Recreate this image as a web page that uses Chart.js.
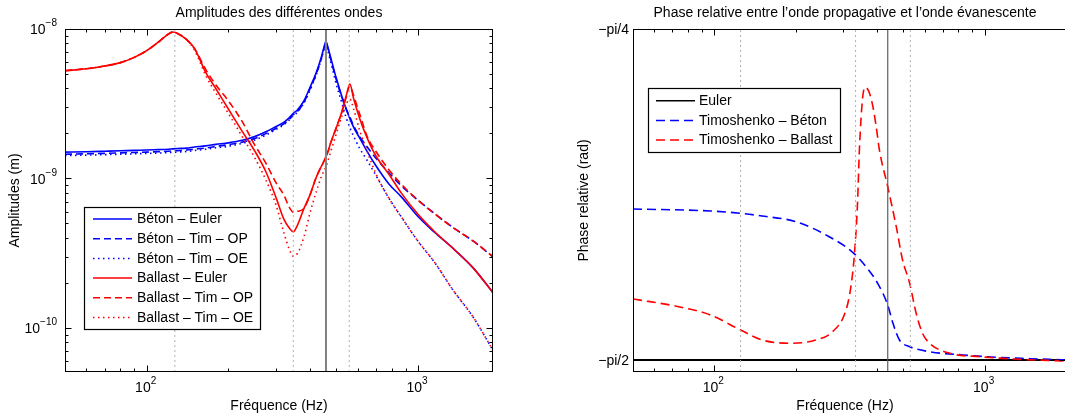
<!DOCTYPE html>
<html>
<head>
<meta charset="utf-8">
<script src="https://cdn.jsdelivr.net/npm/chart.js@4.4.1/dist/chart.umd.min.js"></script>
<style>
  html, body { margin: 0; padding: 0; background: #fff; overflow: hidden; }
  body { width: 1065px; height: 417px; position: relative; }
  canvas { position: absolute; top: 0; }
  #ampChart { left: 0; width: 530px; height: 417px; }
  #phaseChart { left: 530px; width: 545px; height: 417px; }
</style>
</head>
<body>
<canvas id="ampChart" width="530" height="417"></canvas>
<canvas id="phaseChart" width="545" height="417"></canvas>
<script>
// frequency grid (Hz) shared by the amplitude curves
const freq = [50, 60, 70, 80, 90, 100, 110, 120, 125, 130, 140, 150, 165, 180, 200, 225, 250, 275, 300, 320,
  335, 347, 360, 380, 400, 420, 440, 450, 458, 466, 475, 500, 525, 545, 561, 580, 610, 650, 700, 780,
  870, 1000, 1150, 1350, 1600, 1890];

// amplitudes (m)
const betonEuler = [1.500e-9, 1.510e-9, 1.521e-9, 1.531e-9, 1.542e-9, 1.549e-9, 1.560e-9, 1.570e-9, 1.578e-9, 1.585e-9,
  1.596e-9, 1.622e-9, 1.652e-9, 1.690e-9, 1.730e-9, 1.799e-9, 1.905e-9, 2.051e-9, 2.228e-9, 2.371e-9,
  2.541e-9, 2.723e-9, 2.884e-9, 3.311e-9, 4.074e-9, 5.012e-9, 6.457e-9, 7.499e-9, 8.260e-9, 7.499e-9,
  6.607e-9, 4.677e-9, 3.508e-9, 2.884e-9, 2.512e-9, 2.188e-9, 1.862e-9, 1.514e-9, 1.216e-9, 9.226e-10,
  7.499e-10, 5.559e-10, 4.365e-10, 3.388e-10, 2.512e-10, 1.718e-10];
const betonTimOP = [1.452e-9, 1.462e-9, 1.472e-9, 1.483e-9, 1.493e-9, 1.500e-9, 1.510e-9, 1.521e-9, 1.528e-9, 1.535e-9,
  1.549e-9, 1.570e-9, 1.600e-9, 1.637e-9, 1.683e-9, 1.750e-9, 1.849e-9, 1.995e-9, 2.168e-9, 2.317e-9,
  2.483e-9, 2.661e-9, 2.818e-9, 3.236e-9, 3.981e-9, 4.898e-9, 6.310e-9, 7.413e-9, 8.128e-9, 7.413e-9,
  6.457e-9, 4.571e-9, 3.467e-9, 2.884e-9, 2.570e-9, 2.239e-9, 1.905e-9, 1.622e-9, 1.365e-9, 1.096e-9,
  8.913e-10, 7.161e-10, 5.821e-10, 4.677e-10, 3.802e-10, 2.992e-10];
const betonTimOE = [1.422e-9, 1.432e-9, 1.442e-9, 1.452e-9, 1.462e-9, 1.469e-9, 1.479e-9, 1.489e-9, 1.496e-9, 1.503e-9,
  1.514e-9, 1.538e-9, 1.567e-9, 1.603e-9, 1.641e-9, 1.718e-9, 1.807e-9, 1.950e-9, 2.128e-9, 2.291e-9,
  2.455e-9, 2.630e-9, 2.786e-9, 3.199e-9, 3.890e-9, 4.842e-9, 6.237e-9, 7.244e-9, 7.943e-9, 7.079e-9,
  6.166e-9, 4.266e-9, 3.162e-9, 2.512e-9, 2.188e-9, 1.905e-9, 1.585e-9, 1.318e-9, 1.047e-9, 7.413e-10,
  5.495e-10, 3.802e-10, 2.754e-10, 1.778e-10, 1.175e-10, 7.08e-11];
const ballastEuler = [5.260e-9, 5.420e-9, 5.649e-9, 5.957e-9, 6.457e-9, 7.161e-9, 8.128e-9, 9.226e-9, 9.550e-9, 9.333e-9,
  8.511e-9, 7.413e-9, 5.129e-9, 3.981e-9, 2.917e-9, 2.065e-9, 1.531e-9, 1.109e-9, 7.413e-10, 5.370e-10,
  4.677e-10, 4.395e-10, 4.898e-10, 6.310e-10, 7.762e-10, 1.000e-9, 1.202e-9, 1.303e-9, 1.400e-9, 1.514e-9,
  1.698e-9, 2.188e-9, 2.818e-9, 3.631e-9, 4.276e-9, 3.388e-9, 2.512e-9, 1.862e-9, 1.413e-9, 1.072e-9,
  7.943e-10, 5.754e-10, 4.416e-10, 3.388e-10, 2.512e-10, 1.718e-10];
const ballastTimOP = [5.260e-9, 5.420e-9, 5.649e-9, 5.957e-9, 6.457e-9, 7.161e-9, 8.128e-9, 9.226e-9, 9.550e-9, 9.333e-9,
  8.511e-9, 7.413e-9, 5.370e-9, 4.217e-9, 3.311e-9, 2.399e-9, 1.679e-9, 1.265e-9, 9.333e-10, 7.762e-10,
  6.457e-10, 5.957e-10, 6.026e-10, 6.310e-10, 7.762e-10, 1.000e-9, 1.202e-9, 1.303e-9, 1.400e-9, 1.514e-9,
  1.698e-9, 2.188e-9, 2.818e-9, 3.548e-9, 4.169e-9, 3.548e-9, 2.692e-9, 1.905e-9, 1.514e-9, 1.148e-9,
  9.120e-10, 7.161e-10, 5.821e-10, 4.677e-10, 3.802e-10, 2.992e-10];
const ballastTimOE = [5.260e-9, 5.420e-9, 5.649e-9, 5.957e-9, 6.457e-9, 7.161e-9, 8.128e-9, 9.226e-9, 9.550e-9, 9.333e-9,
  8.511e-9, 7.244e-9, 4.898e-9, 3.715e-9, 2.723e-9, 1.905e-9, 1.380e-9, 9.772e-10, 6.607e-10, 4.365e-10,
  3.388e-10, 3.020e-10, 3.162e-10, 4.074e-10, 5.888e-10, 7.943e-10, 1.023e-9, 1.122e-9, 1.202e-9, 1.318e-9,
  1.479e-9, 1.995e-9, 2.630e-9, 3.162e-9, 3.388e-9, 2.884e-9, 2.089e-9, 1.514e-9, 1.072e-9, 7.413e-10,
  5.495e-10, 3.802e-10, 2.754e-10, 1.778e-10, 1.175e-10, 7.08e-11];

// relative phase (rad)
const phaseFreqBeton = [50, 96.6, 125, 150, 200, 266, 325, 364, 402, 438, 458, 484, 528, 626, 833, 1108, 1474, 2000];
const phaseBeton = [-1.2125, -1.2172, -1.2227, -1.2291, -1.2426, -1.2782, -1.3152, -1.3494, -1.3888, -1.4403,
  -1.4837, -1.5233, -1.5392, -1.5511, -1.5589, -1.5644, -1.5677, -1.5708];
const phaseFreqBallast = [50, 73.7, 96.6, 125, 150, 194, 237, 274, 307, 320, 330, 339, 344, 354, 362, 375, 386, 397,
  408, 438, 471, 497, 528, 558, 589, 626, 743, 961, 1279, 2000];
const phaseBallast = [-1.4260, -1.4443, -1.4640, -1.4996, -1.5233, -1.5312, -1.5233, -1.5036, -1.4521, -1.3969,
  -1.3176, -1.1911, -1.0725, -0.9460, -0.9237, -0.9379, -0.9697, -1.0172, -1.0725, -1.1596, -1.2545, -1.3335,
  -1.3888, -1.4600, -1.5074, -1.5312, -1.5549, -1.5630, -1.5684, -1.5732];
const eulerFreq = [50, 2000];
const eulerPhase = [-Math.PI / 2, -Math.PI / 2];

// characteristic frequencies marked on each plot
const ampMarksDotted = [127, 347, 558];
const ampMarkSolid = 458;
const phaseMarksDotted = [125, 333, 531];
const phaseMarkSolid = 438;

const phaseTicks = [-Math.PI / 2, -Math.PI / 4];
const phaseTickLabels = ['\u2212pi/2', '\u2212pi/4'];

const FONT = '"Liberation Sans", Arial, Helvetica, sans-serif';
const AMP_MIN = 5.07e-11, AMP_MAX = 1e-8;
const PH_MIN = -1.5993, PH_MAX = -Math.PI / 4;

function pts(xs, ys) {
  return xs.map((x, i) => ({ x: x, y: ys[i] }));
}

function curve(label, xs, ys, color, dash, order, width) {
  return {
    label: label, data: pts(xs, ys), borderColor: color, borderWidth: width || 1.6,
    borderDash: dash, cubicInterpolationMode: 'monotone', pointRadius: 0, order: order
  };
}

function vline(f, lo, hi, color, dash, width) {
  return {
    label: '', data: [{ x: f, y: lo }, { x: f, y: hi }], borderColor: color, borderWidth: width,
    borderDash: dash, pointRadius: 0, order: 0
  };
}

function logTicks(min, max) {
  const out = [];
  for (let k = Math.floor(Math.log10(min)); k <= Math.ceil(Math.log10(max)); k++) {
    for (let m = 1; m <= 9; m++) {
      const v = m * Math.pow(10, k);
      if (v >= min * 0.999 && v <= max * 1.001) out.push({ v: v, major: m === 1, k: k });
    }
  }
  return out;
}

function powerLabel(ctx, exp, x, y, align) {
  ctx.font = '14px ' + FONT;
  const wb = ctx.measureText('10').width;
  ctx.font = '10px ' + FONT;
  const we = ctx.measureText(exp).width;
  const x0 = align === 'right' ? x - wb - we : x - (wb + we) / 2;
  ctx.textAlign = 'left';
  ctx.textBaseline = 'middle';
  ctx.fillStyle = '#000';
  ctx.font = '14px ' + FONT;
  ctx.fillText('10', x0, y);
  ctx.font = '10px ' + FONT;
  ctx.fillText(exp, x0 + wb, y - 7);
}

// box, inward ticks, tick labels, titles and the boxed legend
const framePlugin = {
  id: 'frame',
  afterDatasetsDraw(chart, args, o) {
    const ctx = chart.ctx;
    const a = chart.chartArea;
    const x = chart.scales.x, y = chart.scales.y;
    const L = Math.round(a.left) + 0.5, R = Math.round(a.right) - 0.5;
    const T = Math.round(a.top) + 0.5, B = Math.round(a.bottom) - 0.5;
    ctx.save();
    ctx.strokeStyle = '#000';
    ctx.lineWidth = 1;
    ctx.setLineDash([]);
    ctx.strokeRect(L, T, R - L, B - T);

    ctx.beginPath();
    logTicks(x.min, x.max).forEach(t => {
      const px = Math.round(x.getPixelForValue(t.v)) + 0.5;
      const len = t.major ? 6 : 3;
      ctx.moveTo(px, B); ctx.lineTo(px, B - len);
      ctx.moveTo(px, T); ctx.lineTo(px, T + len);
    });
    if (o.yLog) {
      logTicks(y.min, y.max).forEach(t => {
        const py = Math.round(y.getPixelForValue(t.v)) + 0.5;
        const len = t.major ? 6 : 3;
        ctx.moveTo(L, py); ctx.lineTo(L + len, py);
        ctx.moveTo(R, py); ctx.lineTo(R - len, py);
      });
    } else {
      o.yTicks.forEach(v => {
        const py = Math.round(y.getPixelForValue(v)) + 0.5;
        ctx.moveTo(L, py); ctx.lineTo(L + 6, py);
        ctx.moveTo(R, py); ctx.lineTo(R - 6, py);
      });
    }
    ctx.stroke();

    // tick labels
    logTicks(x.min, x.max).filter(t => t.major).forEach(t => {
      powerLabel(ctx, String(t.k), x.getPixelForValue(t.v) - 1, 388.5, 'center');
    });
    if (o.yLog) {
      logTicks(y.min, y.max).filter(t => t.major).forEach(t => {
        powerLabel(ctx, '\u2212' + String(-t.k), a.left - 8, y.getPixelForValue(t.v) + 1.5, 'right');
      });
    } else {
      ctx.font = '14px ' + FONT;
      ctx.fillStyle = '#000';
      ctx.textAlign = 'right';
      ctx.textBaseline = 'middle';
      o.yTicks.forEach((v, i) => ctx.fillText(o.yTickLabels[i], a.left - 4, y.getPixelForValue(v) + 1.5));
    }

    // titles
    ctx.fillStyle = '#000';
    ctx.textAlign = 'center';
    ctx.textBaseline = 'middle';
    ctx.font = '14px ' + FONT;
    ctx.fillText(o.title, o.centerX, 13.5);
    ctx.fillText('Fr\u00e9quence (Hz)', o.centerX, 406);
    ctx.save();
    ctx.translate(o.yLabelX, (a.top + a.bottom) / 2);
    ctx.rotate(-Math.PI / 2);
    ctx.fillText(o.yLabel, 0, 0);
    ctx.restore();

    // legend
    const g = o.legend;
    ctx.fillStyle = '#fff';
    ctx.fillRect(g.left, g.top, g.width, g.height);
    ctx.strokeStyle = '#000';
    ctx.lineWidth = 1.2;
    ctx.strokeRect(g.left + 0.5, g.top + 0.5, g.width, g.height);
    g.items.forEach((idx, i) => {
      const ds = chart.data.datasets[idx];
      const ry = g.rowY0 + i * g.rowStep;
      ctx.beginPath();
      ctx.strokeStyle = ds.borderColor;
      ctx.lineWidth = 1.5;
      ctx.setLineDash(ds.borderDash || []);
      ctx.moveTo(g.lineX0, ry);
      ctx.lineTo(g.lineX1, ry);
      ctx.stroke();
      ctx.setLineDash([]);
      ctx.fillStyle = '#000';
      ctx.textAlign = 'left';
      ctx.font = '14px ' + FONT;
      ctx.fillText(ds.label, g.textX, ry + 0.5);
    });
    ctx.restore();
  }
};

const BLUE = '#0000ff', RED = '#ff0000';
const DASH = [7, 4], DOT = [1.5, 3.5];

new Chart(document.getElementById('ampChart').getContext('2d'), {
  type: 'line',
  data: {
    datasets: [
      curve('B\u00e9ton \u2013 Euler', freq, betonEuler, BLUE, [], 2),
      curve('B\u00e9ton \u2013 Tim \u2013 OP', freq, betonTimOP, BLUE, DASH, 2),
      curve('B\u00e9ton \u2013 Tim \u2013 OE', freq, betonTimOE, BLUE, DOT, 2),
      curve('Ballast \u2013 Euler', freq, ballastEuler, RED, [], 1),
      curve('Ballast \u2013 Tim \u2013 OP', freq, ballastTimOP, RED, DASH, 1),
      curve('Ballast \u2013 Tim \u2013 OE', freq, ballastTimOE, RED, DOT, 1),
      ...ampMarksDotted.map(f => vline(f, AMP_MIN, AMP_MAX, '#b0b0b0', [2, 3], 1)),
      vline(ampMarkSolid, AMP_MIN, AMP_MAX, '#808080', [], 2)
    ]
  },
  options: {
    responsive: false,
    animation: false,
    devicePixelRatio: 1,
    layout: { padding: { left: 65, right: 37, top: 29, bottom: 45 } },
    scales: {
      x: { type: 'logarithmic', min: 50, max: 1890, display: false },
      y: { type: 'logarithmic', min: AMP_MIN, max: AMP_MAX, display: false }
    },
    plugins: {
      legend: { display: false },
      tooltip: { enabled: false },
      frame: {
        title: 'Amplitudes des diff\u00e9rentes ondes',
        centerX: 279,
        yLabel: 'Amplitudes (m)',
        yLabelX: 15,
        yLog: true,
        legend: {
          left: 84, top: 207, width: 176, height: 122,
          rowY0: 219, rowStep: 19.7, lineX0: 93, lineX1: 132, textX: 137,
          items: [0, 1, 2, 3, 4, 5]
        }
      }
    }
  },
  plugins: [framePlugin]
});

new Chart(document.getElementById('phaseChart').getContext('2d'), {
  type: 'line',
  data: {
    datasets: [
      curve('Euler', eulerFreq, eulerPhase, '#000', [], 3, 2),
      curve('Timoshenko \u2013 B\u00e9ton', phaseFreqBeton, phaseBeton, BLUE, [9, 5], 2),
      curve('Timoshenko \u2013 Ballast', phaseFreqBallast, phaseBallast, RED, [9, 5], 1),
      ...phaseMarksDotted.map(f => vline(f, PH_MIN, PH_MAX, '#b0b0b0', [2, 3], 1)),
      vline(phaseMarkSolid, PH_MIN, PH_MAX, '#606060', [], 1.2)
    ]
  },
  options: {
    responsive: false,
    animation: false,
    devicePixelRatio: 1,
    layout: { padding: { left: 103, right: 9, top: 29, bottom: 45 } },
    scales: {
      x: { type: 'logarithmic', min: 50, max: 2000, display: false },
      y: { type: 'linear', min: PH_MIN, max: PH_MAX, display: false }
    },
    plugins: {
      legend: { display: false },
      tooltip: { enabled: false },
      frame: {
        title: 'Phase relative entre l\u2019onde propagative et l\u2019onde \u00e9vanescente',
        centerX: 315,
        yLabel: 'Phase relative (rad)',
        yLabelX: 54,
        yLog: false,
        yTicks: phaseTicks,
        yTickLabels: phaseTickLabels,
        legend: {
          left: 118, top: 88, width: 192, height: 64,
          rowY0: 100.7, rowStep: 19.7, lineX0: 126, lineX1: 165, textX: 169,
          items: [0, 1, 2]
        }
      }
    }
  },
  plugins: [framePlugin]
});
</script>
</body>
</html>
